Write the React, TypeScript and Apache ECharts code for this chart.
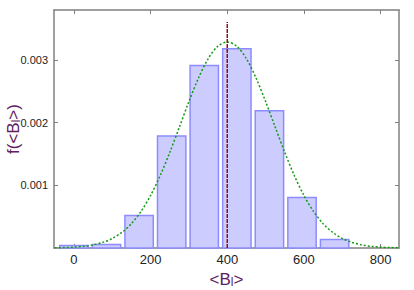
import React, { useEffect, useRef } from "react";
import * as echarts from "echarts";

const binCenters = [0, 85, 170, 255, 340, 425, 510, 595, 680];
const binHeights = [0.00004, 0.000056, 0.00052, 0.00179, 0.002915, 0.00318, 0.00219, 0.000805, 0.000136];

const fitX = [-50, -25, 0, 25, 50, 75, 100, 125, 150, 175, 200, 225, 250, 275, 300, 325, 350, 375, 400, 425, 450, 475, 500, 525, 550, 575, 600, 625, 650, 675, 700, 725, 750, 775, 800, 825, 850];
const fitY = [0.0000033, 0.0000069, 0.0000139, 0.000027, 0.00005, 0.0000893, 0.000152, 0.000249, 0.000389, 0.000584, 0.000839, 0.001156, 0.001526, 0.00193, 0.002339, 0.002715, 0.003021, 0.00322, 0.00329, 0.00322, 0.003021, 0.002715, 0.002339, 0.00193, 0.001526, 0.001156, 0.000839, 0.000584, 0.000389, 0.000249, 0.000152, 0.0000893, 0.00005, 0.000027, 0.0000139, 0.0000069, 0.0000033];

const meanX = [400, 400];
const meanY = [0, 0.00361];

const xTicks = [0, 200, 400, 600, 800];
const yTicks = [0.001, 0.002, 0.003];

export default function App() {
  const ref = useRef<HTMLDivElement>(null);
  useEffect(() => {
    const chart = echarts.init(ref.current!, undefined, { renderer: "svg" });
    const font = "Liberation Sans, Arial, sans-serif";
    const purple = "#602060";
    const frame = "#808080";
    const halfW = 37;
    const line = { show: true, onZero: false, lineStyle: { color: frame, width: 1.5 } };
    const tick = (vals: number[]) => ({ show: true, inside: true, length: 4, customValues: vals, lineStyle: { color: frame, width: 1 } });
    const rich = {
      a: { fontSize: 17, color: purple, fill: purple, fontFamily: font },
      s: { fontSize: 12, color: purple, fill: purple, fontFamily: font, padding: [6, 0, 0, 0] },
    };
    chart.setOption({
      animation: false,
      grid: {
        left: 54, right: 15, top: 10, bottom: 42,
        containLabel: false, outerBoundsMode: "none",
      },
      graphic: [
        {
          type: "text",
          x: 13,
          y: 129,
          rotation: Math.PI / 2,
          style: {
            text: "{a|f(<B}{s|l}{a|>)}",
            rich,
            fill: purple,
            align: "center",
            verticalAlign: "middle",
          },
        },
      ],
      xAxis: [
        {
          type: "value",
          position: "bottom",
          min: -52,
          max: 848,
          splitLine: { show: false },
          axisLine: line,
          axisTick: tick(xTicks),
          axisLabel: { customValues: xTicks, fontSize: 13, color: "#222", fontFamily: font, margin: 5 },
          name: "{a|<B}{s|l}{a|>}",
          nameLocation: "middle",
          nameGap: 22,
          nameTextStyle: { rich },
        },
        {
          type: "value",
          position: "top",
          min: -52,
          max: 848,
          splitLine: { show: false },
          axisLine: line,
          axisTick: tick(xTicks),
          axisLabel: { show: false },
        },
      ],
      yAxis: [
        {
          type: "value",
          position: "left",
          min: 0,
          max: 0.0038,
          splitLine: { show: false },
          axisLine: line,
          axisTick: tick(yTicks),
          axisLabel: {
            customValues: yTicks,
            fontSize: 11,
            color: "#222",
            fontFamily: font,
            margin: 6,
            formatter: (v: number) => v.toFixed(3),
          },
        },
        {
          type: "value",
          position: "right",
          min: 0,
          max: 0.0038,
          splitLine: { show: false },
          axisLine: line,
          axisTick: tick(yTicks),
          axisLabel: { show: false },
        },
      ],
      series: [
        {
          type: "custom",
          xAxisIndex: 0,
          yAxisIndex: 0,
          data: binCenters.map((c, i) => [c, binHeights[i]]),
          renderItem: (params: any, api: any) => {
            const c = api.value(0);
            const h = api.value(1);
            const p0 = api.coord([c - halfW, 0]);
            const p1 = api.coord([c + halfW, h]);
            return {
              type: "rect",
              shape: { x: p0[0], y: p1[1], width: p1[0] - p0[0], height: p0[1] - p1[1] },
              style: { fill: "#ccccff", stroke: "#8c8cff", lineWidth: 1.5 },
            };
          },
          z: 1,
        },
        {
          type: "line",
          xAxisIndex: 0,
          yAxisIndex: 0,
          data: fitX.map((x, i) => [x, fitY[i]]),
          smooth: 0.3,
          showSymbol: false,
          lineStyle: { color: "#109a10", width: 1.5, type: [2, 2] },
          z: 3,
        },
        {
          type: "line",
          xAxisIndex: 0,
          yAxisIndex: 0,
          data: meanX.map((x, i) => [x, meanY[i]]),
          showSymbol: false,
          lineStyle: { color: "#8b1010", width: 1.5, type: [4, 1] },
          z: 4,
        },
      ],
    });
    return () => chart.dispose();
  }, []);
  return <div ref={ref} style={{ width: 414, height: 290, position: "absolute", left: 0, top: 0 }} />;
}
